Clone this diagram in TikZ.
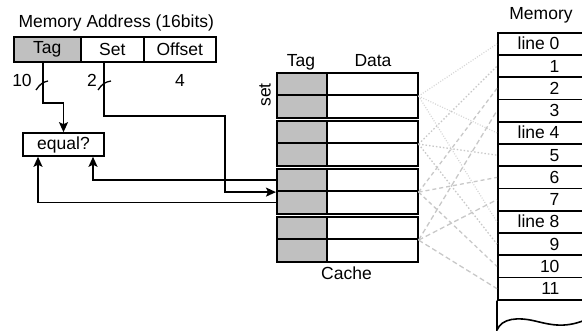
\documentclass[tikz,border=0pt]{standalone}
\usepackage{fontspec}
\setmainfont{Liberation Sans}
\usetikzlibrary{arrows.meta,calc}
\definecolor{tagfill}{RGB}{192,192,192}
\definecolor{linkA}{RGB}{214,214,214}
\definecolor{linkB}{RGB}{200,200,200}
\begin{document}
\begin{tikzpicture}[x=1pt,y=-1pt,
  font=\fontsize{17.5}{20}\selectfont,
  cellbox/.style={draw,line width=1.6pt,inner sep=0pt,anchor=north west},
  tagcell/.style={cellbox,fill=tagfill},
  wire/.style={line width=1.6pt},
  arr/.style={-{Stealth[length=10pt,width=9pt,inset=2pt]}},
  lk0/.style={linkA,line width=1.2pt,dash pattern=on 1pt off 1.6pt},
  lk1/.style={linkB,line width=1.3pt,dash pattern=on 1.5pt off 2pt},
  lk2/.style={linkB,line width=1.3pt,dash pattern=on 4pt off 3pt},
  lk3/.style={linkB,line width=1.3pt,dash pattern=on 5pt off 3pt},
  tick/.style={line width=1.3pt}]
\useasboundingbox (0,0) rectangle (582,331);
\clip (0,0) rectangle (582,331);

% address
\node[anchor=base west] (title) at (15,28) {Memory Address (16bits)};
\node[tagcell,minimum width=67,minimum height=25] (tagA) at (13,36) {Tag};
\node[cellbox,minimum width=63,minimum height=25] (setA) at (80,36) {Set};
\node[cellbox,minimum width=72,minimum height=25] (offA) at (143,36) {Offset};
\node[anchor=base] (n10) at (22,87) {10};
\node[anchor=base] (n2) at (92,87) {2};
\node[anchor=base] (n4) at (180,87) {4};

% equal box
\node[cellbox,anchor=center,minimum width=81,minimum height=23] (eq) at (63.5,144.5) {equal?};

% cache
\node[anchor=base] (htag) at (301,67) {Tag};
\node[anchor=base] (hdata) at (373,67) {Data};
\node[rotate=90] (hset) at (265,95) {set};
\foreach \i in {0,...,7}{
  \pgfmathsetmacro{\yy}{72+48*floor(\i/2)+22.5*mod(\i,2)}
  \node[tagcell,minimum width=50,minimum height=22.5] (ct\i) at (276,\yy) {};
  \node[cellbox,minimum width=91,minimum height=22.5] (cd\i) at (326,\yy) {};
}
\node[anchor=base] (hcache) at (346.5,280) {Cache};

% memory
\node[anchor=base] (hmem) at (541,20) {Memory};
\foreach \lab [count=\k from 0] in {line 0,1,2,3,line 4,5,6,7,line 8,9,10,11}{
  \node[cellbox,minimum width=110,minimum height=22.25] (m\k) at (497,{32+22.25*\k}) {};
  \node[anchor=base east] at (563,{32+22.25*\k+18}) {\lab};
}
\draw[wire] (m11.south west) -- (497,330) .. controls (502,318) and (518,317) .. (535,321)
  .. controls (552,325) and (566,329) .. (590,318);

% links cache -> memory
\foreach \m in {0,4,8} \draw[lk0] (cd0.south east) -- (m\m.west);
\foreach \m in {1,5,9} \draw[lk1] (cd2.south east) -- (m\m.west);
\foreach \m in {2,6,10} \draw[lk2] (cd4.south east) -- (m\m.west);
\foreach \m in {3,7,11} \draw[lk3] (cd6.south east) -- (m\m.west);

% wires
\coordinate (tagx) at (43,0);
\coordinate (setx) at (104,0);
\coordinate (setbend) at (225,116);
\draw[wire,arr] (tagA.south -| tagx) |- ($(eq.north)+(0,-29)$) -- (eq.north);
\draw[wire,arr] (setA.south -| setx) |- (setbend) |- (ct4.south west);
\draw[wire,arr] (ct4.west) -| ([xshift=29.5pt]eq.south);
\draw[wire,arr] (ct5.west) -| ([xshift=-25.5pt]eq.south);

% width ticks
\draw[tick] (36,90) .. controls (40,84) and (43,82) .. (48,81);
\draw[tick] (98,90) .. controls (102,84) and (105,82) .. (111,81);
\end{tikzpicture}
\end{document}
